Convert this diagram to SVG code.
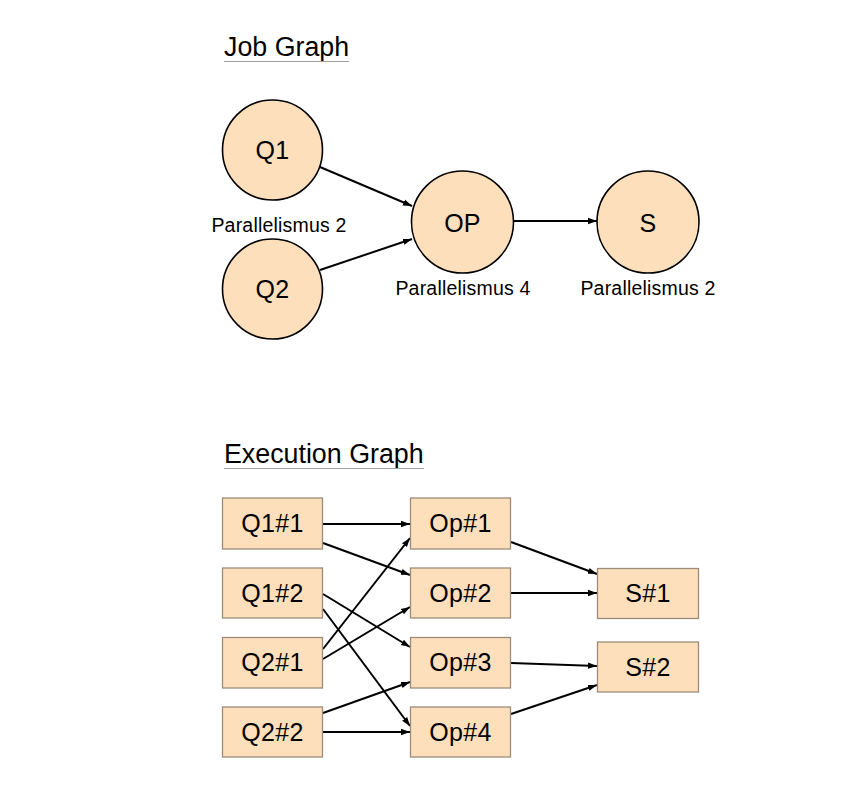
<svg xmlns="http://www.w3.org/2000/svg" width="841" height="799" viewBox="0 0 841 799">
<style>
  text { font-family: "Liberation Sans", Arial, sans-serif; fill: #000; }
  .title { font-size: 26.8px; }
  .ul { stroke: #a0a0a0; stroke-width: 1.2; }
  .circ { fill: #FDDFBB; stroke: #000; stroke-width: 1.6; }
  .box { fill: #FDDFBB; stroke: #9C8C7A; stroke-width: 1.3; }
  .lbl { font-size: 25px; text-anchor: middle; letter-spacing: 0.3px; }
  .par { font-size: 19.5px; text-anchor: middle; letter-spacing: 0.2px; }
  .edge { stroke: #000; stroke-width: 2; fill: none; marker-end: url(#arr); }
</style>
<defs>
  <marker id="arr" viewBox="0 0 10 10" refX="10" refY="5" markerWidth="4.5" markerHeight="4.5" orient="auto" markerUnits="strokeWidth">
    <path d="M0,1.5 L10,5 L0,8.5 Z" fill="#000"/>
  </marker>
</defs>
<rect width="841" height="799" fill="#fff"/>

<g id="title-job">
  <text class="title" x="224" y="56">Job Graph</text>
  <line class="ul" x1="224" y1="61.5" x2="349" y2="61.5"/>
</g>
<g id="title-exec">
  <text class="title" x="224" y="463">Execution Graph</text>
  <line class="ul" x1="224" y1="468.5" x2="424" y2="468.5"/>
</g>

<g id="connectors">
  <line class="edge" x1="320" y1="167" x2="412" y2="206"/>
  <line class="edge" x1="320" y1="270" x2="412" y2="239"/>
  <line class="edge" x1="512" y1="221" x2="597" y2="221"/>

  <line class="edge" x1="323" y1="524" x2="410" y2="524"/>
  <line class="edge" x1="323" y1="543" x2="410" y2="575"/>
  <line class="edge" x1="323" y1="594" x2="410" y2="647"/>
  <line class="edge" x1="323" y1="609" x2="410" y2="726"/>
  <line class="edge" x1="323" y1="649" x2="410" y2="538"/>
  <line class="edge" x1="323" y1="659" x2="410" y2="607"/>
  <line class="edge" x1="323" y1="713" x2="410" y2="682"/>
  <line class="edge" x1="323" y1="732" x2="410" y2="732"/>

  <line class="edge" x1="511" y1="542" x2="597" y2="574"/>
  <line class="edge" x1="511" y1="593" x2="597" y2="593"/>
  <line class="edge" x1="511" y1="663" x2="597" y2="666"/>
  <line class="edge" x1="511" y1="714" x2="597" y2="685"/>
</g>

<g id="Q1">
  <circle class="circ" cx="272.5" cy="150" r="50"/>
  <text class="lbl" x="272.5" y="159">Q1</text>
</g>
<g id="Q2">
  <circle class="circ" cx="272.5" cy="289" r="50"/>
  <text class="lbl" x="272.5" y="298">Q2</text>
</g>
<text id="par-q" class="par" x="279" y="232">Parallelismus 2</text>
<g id="OP">
  <circle class="circ" cx="462.5" cy="222" r="51"/>
  <text class="lbl" x="462.5" y="232">OP</text>
  <text class="par" x="463" y="295">Parallelismus 4</text>
</g>
<g id="S">
  <circle class="circ" cx="648" cy="222" r="51"/>
  <text class="lbl" x="648" y="232">S</text>
  <text class="par" x="648" y="295">Parallelismus 2</text>
</g>

<g id="Q1-1"><rect class="box" x="222.5" y="498" width="100" height="51"/><text class="lbl" x="272.5" y="532">Q1#1</text></g>
<g id="Q1-2"><rect class="box" x="222.5" y="568" width="100" height="50"/><text class="lbl" x="272.5" y="601.5">Q1#2</text></g>
<g id="Q2-1"><rect class="box" x="222.5" y="637.5" width="100" height="50.5"/><text class="lbl" x="272.5" y="671">Q2#1</text></g>
<g id="Q2-2"><rect class="box" x="222.5" y="707" width="100" height="50"/><text class="lbl" x="272.5" y="740.5">Q2#2</text></g>

<g id="Op-1"><rect class="box" x="410.5" y="498" width="100" height="51"/><text class="lbl" x="460.5" y="532">Op#1</text></g>
<g id="Op-2"><rect class="box" x="410.5" y="568" width="100" height="50"/><text class="lbl" x="460.5" y="601.5">Op#2</text></g>
<g id="Op-3"><rect class="box" x="410.5" y="637.5" width="100" height="50.5"/><text class="lbl" x="460.5" y="671">Op#3</text></g>
<g id="Op-4"><rect class="box" x="410.5" y="707" width="100" height="50"/><text class="lbl" x="460.5" y="740.5">Op#4</text></g>

<g id="S-1"><rect class="box" x="597.5" y="568.5" width="101" height="50"/><text class="lbl" x="648" y="602">S#1</text></g>
<g id="S-2"><rect class="box" x="597.5" y="642" width="101" height="50"/><text class="lbl" x="648" y="675.5">S#2</text></g>
</svg>
